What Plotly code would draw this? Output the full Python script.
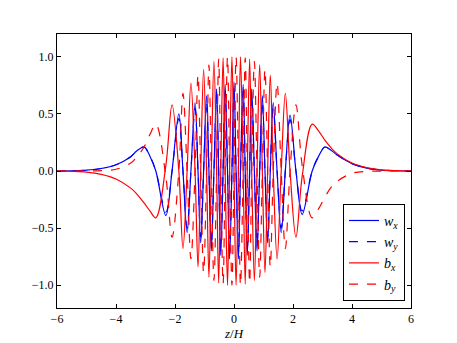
import plotly.graph_objects as go

# z/H positions (extrema and crossings)
z = [-6.0, -5.5, -5.0, -4.5, -4.0, -3.5, -3.3, -3.05, -2.85, -2.65, -2.31, -2.10, -1.87,
     -1.73, -1.59, -1.46, -1.32, -1.22, -1.13, -1.03, -0.93, -0.85, -0.77, -0.68,
     -0.59, -0.52, -0.45, -0.37, -0.30, -0.22, -0.15, -0.07, 0.0, 0.07, 0.15, 0.22,
     0.31, 0.38, 0.45, 0.53, 0.60, 0.69, 0.78, 0.87, 0.96, 1.05, 1.14, 1.23, 1.33,
     1.46, 1.60, 1.74, 1.90, 2.10, 2.31, 2.65, 2.87, 3.08, 3.3, 3.5, 4.0, 4.5, 5.0,
     5.5, 6.0]

w_x = [0.0, 0.002, 0.007, 0.022, 0.055, 0.125, 0.175, 0.21, 0.13, 0.0, -0.39, 0.0, 0.50,
       0.0, -0.54, 0.0, 0.60, 0.0, -0.63, 0.0, 0.66, 0.0, -0.70, 0.0,
       0.72, 0.0, -0.74, 0.0, 0.76, 0.0, -0.77, 0.0, 0.78, 0.0, -0.77, 0.0,
       0.76, 0.0, -0.74, 0.0, 0.72, 0.0, -0.70, 0.0, 0.66, 0.0, -0.63, 0.0, 0.60,
       0.0, -0.54, 0.0, 0.49, 0.0, -0.38, 0.0, 0.13, 0.21, 0.18, 0.14, 0.065, 0.025, 0.008,
       0.002, 0.0]

w_y = [0.0, 0.002, 0.007, 0.022, 0.055, 0.125, 0.175, 0.21, 0.13, 0.0, -0.36, 0.0, 0.46,
       0.0, -0.50, 0.0, 0.55, 0.0, -0.58, 0.0, 0.61, 0.0, -0.64, 0.0,
       0.66, 0.0, -0.68, 0.0, 0.70, 0.0, -0.71, 0.0, 0.72, 0.0, -0.71, 0.0,
       0.70, 0.0, -0.68, 0.0, 0.66, 0.0, -0.64, 0.0, 0.61, 0.0, -0.58, 0.0, 0.55,
       0.0, -0.50, 0.0, 0.45, 0.0, -0.35, 0.0, 0.13, 0.21, 0.18, 0.14, 0.065, 0.025, 0.008,
       0.002, 0.0]

b_x = [0.0, -0.003, -0.01, -0.03, -0.07, -0.15, -0.20, -0.28, -0.35, -0.41, 0.05, 0.58, 0.0,
       -0.68, 0.0, 0.77, 0.0, -0.84, 0.0, 0.89, 0.0, -0.93, 0.0, 0.96,
       0.0, -0.98, 0.0, 0.99, 0.0, -1.0, 0.0, 1.0, 0.0, -1.0, 0.0, 1.0,
       0.0, -0.99, 0.0, 0.98, 0.0, -0.96, 0.0, 0.93, 0.0, -0.89, 0.0, 0.84, 0.0,
       -0.77, 0.0, 0.68, 0.0, -0.58, -0.05, 0.41, 0.35, 0.27, 0.20, 0.15, 0.07, 0.03, 0.01,
       0.003, 0.0]

b_y = [0.0, 0.0, 0.001, 0.004, 0.015, 0.07, 0.12, 0.21, 0.32, 0.41, -0.05, -0.58, 0.0,
       0.68, 0.0, -0.77, 0.0, 0.84, 0.0, -0.89, 0.0, 0.93, 0.0, -0.96,
       0.0, 0.98, 0.0, -0.99, 0.0, 1.0, 0.0, -1.0, 0.0, 1.0, 0.0, -1.0,
       0.0, 0.99, 0.0, -0.98, 0.0, 0.96, 0.0, -0.93, 0.0, 0.89, 0.0, -0.84, 0.0,
       0.77, 0.0, -0.68, 0.0, 0.58, 0.05, -0.41, -0.33, -0.23, -0.14, -0.09, -0.02, -0.004,
       -0.001, 0.0, 0.0]

series = [
    ("<i>w<sub>x</sub></i>", w_x, "#0000ff", "solid"),
    ("<i>w<sub>y</sub></i>", w_y, "#0000ff", "dash"),
    ("<i>b<sub>x</sub></i>", b_x, "#ff0000", "solid"),
    ("<i>b<sub>y</sub></i>", b_y, "#ff0000", "dash"),
]

SERIF = "Liberation Serif, DejaVu Serif, serif"

fig = go.Figure()
for name, vals, col, dash in series:
    fig.add_trace(go.Scatter(
        x=z, y=vals, mode="lines", name=name,
        line=dict(color=col, width=1.2, dash=dash, shape="spline", smoothing=1),
    ))

axis_style = dict(
    showline=True, linecolor="black", linewidth=1, mirror="ticks",
    ticks="inside", ticklen=4, tickcolor="black", showgrid=False, zeroline=False,
    automargin=False,
    tickfont=dict(family=SERIF, size=12, color="black"),
)

# page body adds an 8px offset, so the figure is sized 8px smaller
fig.update_layout(
    width=449, height=335,
    margin=dict(l=49, r=46, t=26, b=35),
    paper_bgcolor="white", plot_bgcolor="white",
    xaxis=dict(range=[-6, 6], tickvals=[-6, -4, -2, 0, 2, 4, 6],
               title=dict(text="<i>z</i>/<i>H</i>", standoff=2,
                          font=dict(family=SERIF, size=13, color="black")),
               **axis_style),
    yaxis=dict(range=[-1.2, 1.2], tickvals=[-1.0, -0.5, 0.0, 0.5, 1.0],
               tickformat=".1f", **axis_style),
    legend=dict(x=0.983, y=0.026, xanchor="right", yanchor="bottom",
                bgcolor="white", bordercolor="black", borderwidth=1,
                font=dict(family=SERIF, size=14, color="black")),
    showlegend=True,
)

fig.write_html("out.html")
